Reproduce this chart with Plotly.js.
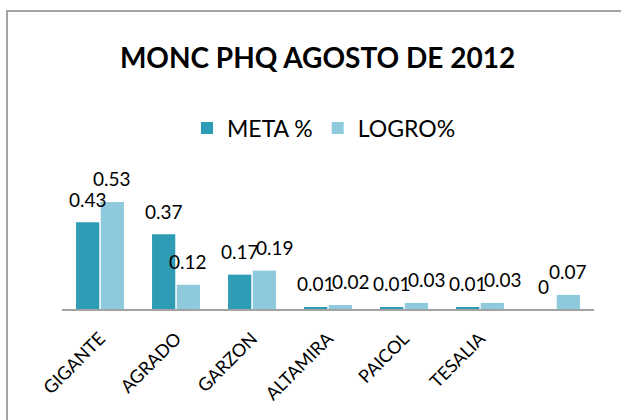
<!DOCTYPE html>
<html><head><meta charset="utf-8">
<script src="https://cdn.plot.ly/plotly-3.0.1.min.js"></script>
<style>
html,body{margin:0;padding:0;background:#fff;}
body{width:621px;height:420px;overflow:hidden;position:relative;}
#frame{position:absolute;left:6px;top:10px;width:700px;height:500px;border:2px solid #a3a3a3;box-sizing:border-box;}
#chart{position:absolute;left:0;top:0;width:621px;height:420px;}
</style></head><body>
<div id="frame"></div><div id="chart"></div>
<script>
const categories = ["GIGANTE", "AGRADO", "GARZON", "ALTAMIRA", "PAICOL", "TESALIA", ""];
const metaValues = [0.43, 0.37, 0.17, 0.01, 0.01, 0.01, 0];
const logroValues = [0.53, 0.12, 0.19, 0.02, 0.03, 0.03, 0.07];
const seriesNames = ["META %", "LOGRO%"];
const titleText = "MONC PHQ AGOSTO DE 2012";

const idx = categories.map((c, i) => i);
const BARGAP = 0.35, GROUPGAP = 0.06;
const W = 621, H = 420, ML = 62, MR = 27, MT = 175, MB = 111;
const plotH = H - MT - MB, plotW = W - ML - MR;
const pxPerUnit = 202;
const yMax = plotH / pxPerUnit;
const pxPerCat = plotW / categories.length;
const LABEL_FONT = 19;

const metaColor = "#2d9cb4", logroColor = "#8fcadc";

const traces = [
  {type: "bar", name: seriesNames[0], x: idx, y: metaValues,
   marker: {color: metaColor, line: {width: 0}}, hoverinfo: "none"},
  {type: "bar", name: seriesNames[1], x: idx, y: logroValues,
   marker: {color: logroColor, line: {width: 0}}, hoverinfo: "none"}
];

const ctx = document.createElement("canvas").getContext("2d");
ctx.font = LABEL_FONT + "px Lato";
const tw = s => ctx.measureText(s).width;
const off = (1 - BARGAP) / 4;
const annotations = [];
idx.forEach(i => {
  const mt = String(metaValues[i]), lt = String(logroValues[i]);
  const dx = 2 * off * pxPerCat;
  const need = (tw(mt) + tw(lt)) / 2;
  const vdiff = Math.abs(logroValues[i] - metaValues[i]) * pxPerUnit;
  let shift = 0;
  if (vdiff < 15 && dx < need) shift = need - dx - 2;
  annotations.push({x: i - off, y: metaValues[i], xref: "x", yref: "y", text: mt,
    showarrow: false, yanchor: "middle", yshift: 23, font: {family: "Lato", size: LABEL_FONT, color: "#000"}});
  annotations.push({x: i + off, y: logroValues[i], xref: "x", yref: "y", text: lt,
    showarrow: false, yanchor: "middle", yshift: 23, xshift: shift, font: {family: "Lato", size: LABEL_FONT, color: "#000"}});
});

const layout = {
  width: W, height: H,
  margin: {l: ML, r: MR, t: MT, b: MB, pad: 0},
  paper_bgcolor: "rgba(0,0,0,0)", plot_bgcolor: "rgba(0,0,0,0)",
  barmode: "group", bargap: BARGAP, bargroupgap: GROUPGAP,
  font: {family: "Lato", color: "#000"},
  title: {text: titleText, x: 317.5 / W, xref: "container", xanchor: "center",
    y: 1 - 58 / H, yref: "container", yanchor: "middle",
    font: {family: "Lato", size: 28, weight: 700, color: "#000"}},
  showlegend: true,
  legend: {orientation: "h", xref: "container", yref: "container", x: 324 / W, xanchor: "center",
    y: 1 - 128 / H, yanchor: "middle", font: {family: "Lato", size: 23, color: "#000"},
    bgcolor: "rgba(0,0,0,0)"},
  xaxis: {range: [-0.5, categories.length - 0.5], tickmode: "array", tickvals: idx, ticktext: categories,
    tickangle: -45, tickfont: {family: "Lato", size: 18, color: "#000"}, ticks: "",
    ticklabelstandoff: 10, showline: true, linecolor: "#a3a3a3", linewidth: 2,
    showgrid: false, zeroline: false, fixedrange: true},
  yaxis: {range: [0, yMax], showticklabels: false, showgrid: false, zeroline: false, showline: false, fixedrange: true},
  annotations: annotations
};

Plotly.newPlot("chart", traces, layout, {displayModeBar: false, staticPlot: true});
</script>
</body></html>
